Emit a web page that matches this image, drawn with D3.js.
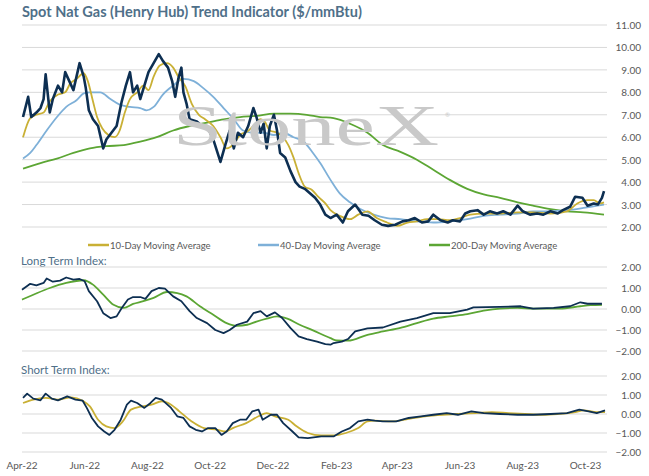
<!DOCTYPE html>
<meta charset="utf-8">
<head>
<style>
  body { margin: 0; background: #fff; }
  text { font-family: Lato, "Open Sans", sans-serif; }
</style>
</head>
<body>
<div id="chart"></div>
<script src="https://d3js.org/d3.v7.min.js"></script>
<script>

// day offsets are days after 1 Apr 2022
var startDate = new Date(2022, 3, 1);

var priceDays = [1,6,9,14,18,21,23,27,30,35,39,42,47,50,56,60,62,65,69,74,79,82,87,92,97,101,105,108,112,115,119,123,128,133,137,142,146,149,152,155,157,160,163,170,175,180,186,193,198,202,206,210,215,220,225,228,232,235,238,241,245,248,251,256,261,266,270,275,280,285,290,295,300,306,312,317,324,331,337,343,350,356,363,370,376,382,389,395,400,407,414,419,426,431,436,443,449,455,462,468,475,482,487,494,501,507,514,521,526,533,538,545,550,556,560,564,566];
var priceVals = [6.9,7.8,6.9,7.1,7.3,7.7,8.8,7.1,7.7,8.3,8.0,8.9,8.4,8.1,9.3,8.7,8.2,7.2,6.8,6.5,5.5,5.9,6.2,6.5,7.6,8.3,8.9,8.0,8.3,7.7,8.3,8.9,9.3,9.7,9.4,9.1,8.5,7.8,8.6,9.1,8.0,7.5,6.8,6.7,6.5,6.5,5.9,4.9,5.7,6.3,5.5,6.2,6.0,6.5,7.3,6.9,6.2,6.6,5.5,6.5,7.0,6.3,5.3,5.1,4.5,4.0,3.8,3.7,3.5,3.3,3.0,2.55,2.4,2.55,2.2,2.7,3.0,2.55,2.5,2.3,2.1,2.05,2.1,2.25,2.3,2.4,2.2,2.25,2.55,2.3,2.2,2.3,2.25,2.6,2.7,2.75,2.55,2.7,2.6,2.7,2.55,2.95,2.7,2.55,2.6,2.55,2.7,2.6,2.75,2.9,3.35,3.3,2.95,3.05,3.0,3.3,3.6];

var ma10Days = [1,8,14,21,27,35,42,47,53,60,64,69,73,78,84,90,95,100,105,112,118,123,128,134,141,147,152,159,165,172,178,186,193,199,206,212,219,225,232,236,241,248,254,259,264,269,275,282,288,295,300,309,319,327,336,345,355,365,375,384,394,404,416,426,436,449,465,482,497,514,530,540,550,556,562,566];
var ma10Vals = [6.0,6.85,7.0,7.1,7.6,7.9,8.0,8.4,8.6,8.85,8.5,7.6,6.9,6.4,6.1,6.0,6.3,7.1,7.7,8.0,8.3,8.1,8.7,9.2,9.3,9.1,8.7,8.25,7.5,7.0,6.8,6.5,6.0,5.5,5.7,6.1,6.25,6.5,6.8,6.7,6.3,6.2,6.0,5.65,5.1,4.4,3.8,3.65,3.35,3.05,2.75,2.5,2.35,2.55,2.7,2.4,2.2,2.05,2.2,2.25,2.35,2.35,2.3,2.4,2.55,2.6,2.6,2.65,2.65,2.6,2.7,3.05,3.2,3.2,3.05,3.1];

var ma40Days = [1,8,14,24,34,43,53,60,66,76,86,95,105,115,121,128,137,147,157,167,176,186,196,206,215,225,235,245,254,264,274,283,290,300,309,319,329,342,355,368,384,400,416,433,449,465,482,497,514,530,546,566];
var ma40Vals = [5.05,5.3,5.65,6.3,6.9,7.35,7.65,7.95,8.0,8.0,7.7,7.45,7.35,7.3,7.2,7.35,7.9,8.3,8.6,8.5,8.2,7.8,7.3,6.8,6.3,6.2,6.2,6.1,6.2,6.0,5.8,5.3,4.85,4.1,3.5,3.1,2.8,2.55,2.4,2.35,2.25,2.2,2.25,2.35,2.5,2.55,2.6,2.7,2.7,2.75,2.85,3.0];

var ma200Days = [1,18,34,50,66,82,99,115,131,147,163,180,196,212,228,245,261,277,290,303,319,336,351,368,384,400,416,433,449,465,482,497,514,530,546,566];
var ma200Vals = [4.6,4.85,5.05,5.3,5.5,5.6,5.65,5.8,6.0,6.3,6.5,6.65,6.8,6.9,6.95,7.05,7.05,7.0,6.9,6.85,6.6,6.2,5.65,5.35,5.0,4.55,4.1,3.7,3.45,3.3,3.1,2.95,2.8,2.7,2.65,2.55];

var longIdxDays = [0,8,14,21,24,30,37,43,50,56,61,65,73,79,86,92,97,103,108,115,120,126,133,139,147,155,163,170,180,188,196,202,209,219,225,232,238,246,253,261,269,277,287,295,300,303,311,317,324,336,351,368,384,400,416,433,439,465,485,497,517,533,543,550,564];
var longIdxVals = [0.92,1.2,1.13,1.24,1.45,1.3,1.35,1.5,1.4,1.43,1.32,0.85,0.37,-0.2,-0.43,-0.35,0.05,0.45,0.57,0.57,0.48,0.85,1.0,0.97,0.6,0.37,-0.1,-0.43,-0.67,-1.0,-1.15,-1.0,-0.75,-0.6,-0.2,-0.1,-0.35,-0.16,-0.43,-0.9,-1.3,-1.43,-1.55,-1.67,-1.7,-1.62,-1.55,-1.43,-1.07,-0.92,-0.88,-0.6,-0.43,-0.2,-0.2,-0.03,0.08,0.1,0.13,0.02,0.05,0.13,0.32,0.25,0.25];

var longAvgDays = [0,11,27,43,60,69,79,89,99,108,118,128,141,151,160,173,186,199,209,219,228,238,248,258,270,283,300,306,317,336,351,368,384,400,416,433,449,465,482,497,523,543,553,564];
var longAvgVals = [0.45,0.68,1.0,1.24,1.37,1.16,0.68,0.2,0.05,0.24,0.37,0.53,0.81,0.76,0.6,0.13,-0.27,-0.67,-0.8,-0.75,-0.6,-0.46,-0.35,-0.46,-0.75,-1.02,-1.39,-1.5,-1.51,-1.23,-1.07,-0.9,-0.67,-0.46,-0.35,-0.24,-0.08,0.02,0.05,0.02,0.02,0.13,0.18,0.2];

var shortIdxDays = [1,5,11,18,23,29,35,44,52,59,63,68,74,80,85,90,96,102,106,112,119,125,130,136,145,151,157,163,169,175,181,188,194,199,205,212,218,224,230,234,242,248,254,263,269,278,291,303,311,319,327,336,343,351,364,376,388,400,413,424,437,449,465,482,497,514,530,542,551,559,567];
var shortIdxVals = [0.85,1.07,0.81,0.72,1.07,0.81,0.72,0.93,0.76,0.7,0.32,-0.21,-0.65,-0.92,-1.1,-0.83,-0.3,0.49,0.7,0.58,0.32,0.58,0.85,0.76,0.32,-0.12,-0.21,-0.65,-0.83,-0.92,-0.74,-0.74,-1.1,-0.92,-0.48,-0.3,-0.3,0.14,0.23,-0.3,-0.04,-0.04,-0.48,-0.92,-1.23,-1.27,-1.18,-1.18,-0.92,-0.74,-0.39,-0.3,-0.35,-0.39,-0.39,-0.21,-0.12,-0.04,0.05,-0.04,0.14,0.05,0,-0.04,-0.04,0,0.05,0.23,0.14,0.05,0.19];

var shortAvgDays = [1,11,23,35,48,59,66,74,82,90,98,106,117,126,136,145,153,165,177,190,198,205,218,230,238,246,259,267,278,291,303,315,327,336,343,360,376,392,409,424,441,457,473,489,506,521,538,546,559,567];
var shortAvgVals = [0.58,0.76,0.85,0.76,0.88,0.7,0.4,-0.3,-0.65,-0.74,-0.39,0.23,0.4,0.49,0.67,0.49,0.14,-0.39,-0.74,-0.83,-0.92,-0.74,-0.48,-0.12,0.05,-0.12,-0.3,-0.65,-1.0,-1.13,-1.13,-1.0,-0.74,-0.39,-0.35,-0.39,-0.25,-0.12,-0.04,0,0.05,0.1,0.05,0,-0.04,0,0.1,0.19,0.1,0.1];

var priceTicks = [2,3,4,5,6,7,8,9,10,11];
var indexTicks = [-2,-1,0,1,2];
var legendLabels = ["10-Day Moving Average", "40-Day Moving Average", "200-Day Moving Average"];

var W = 649, H = 476;
var navy = "#0d2f52", gold = "#c9b035", blue = "#7eb0d8", green = "#5ca634", grid = "#d9d9d9";
var titleColor = "#4f7089", tickColor = "#595959";

var svg = d3.select("#chart").append("svg").attr("width", W).attr("height", H);

function toPts(days, vals) {
  return days.map(function(d, i) { return {date: d3.timeDay.offset(startDate, d), v: vals[i]}; });
}

var x = d3.scaleTime()
  .domain([startDate, d3.timeDay.offset(startDate, 566)])
  .range([22, 604]);

function panel(y, ticks) {
  var g = svg.append("g");
  g.selectAll("line.grid").data(ticks).enter().append("line")
    .attr("x1", 22).attr("x2", 607)
    .attr("y1", function(d) { return y(d); }).attr("y2", function(d) { return y(d); })
    .attr("stroke", grid).attr("stroke-width", 1);
  g.selectAll("text.tick").data(ticks).enter().append("text")
    .attr("x", 641).attr("y", function(d) { return y(d) + 4; })
    .attr("text-anchor", "end").attr("font-size", 10).attr("fill", tickColor)
    .text(function(d) { return d3.format(".2f")(d); });
  return g;
}

function drawLine(g, y, pts, color, w, smooth) {
  var line = d3.line().x(function(d) { return x(d.date); }).y(function(d) { return y(d.v); })
    .curve(smooth ? d3.curveMonotoneX : d3.curveLinear);
  g.append("path").datum(pts).attr("d", line)
    .attr("fill", "none").attr("stroke", color).attr("stroke-width", w)
    .attr("stroke-linejoin", "round");
}

// title
svg.append("text").attr("x", 22).attr("y", 17)
  .attr("font-size", 14.5).attr("font-weight", "bold").attr("fill", titleColor)
  .text("Spot Nat Gas (Henry Hub) Trend Indicator ($/mmBtu)");

// price panel
var yP = d3.scaleLinear().domain([2, 11]).range([227, 25]);
var gP = panel(yP, priceTicks);

// watermark
svg.append("text").attr("x", 173).attr("y", 145)
  .attr("font-size", 56).attr("fill", "#c9c9c9")
  .attr("textLength", 266).attr("lengthAdjust", "spacingAndGlyphs")
  .style("font-family", "'Liberation Serif', 'DejaVu Serif', serif")
  .text("StoneX");
svg.append("text").attr("x", 445).attr("y", 117).attr("font-size", 6)
  .attr("fill", "#c9c9c9").text("®");

drawLine(gP, yP, toPts(ma200Days, ma200Vals), green, 1.8, true);
drawLine(gP, yP, toPts(ma40Days, ma40Vals), blue, 1.8, true);
drawLine(gP, yP, toPts(ma10Days, ma10Vals), gold, 1.8, true);
drawLine(gP, yP, toPts(priceDays, priceVals), navy, 2.6, false);

// legend
var legX = [88, 258, 429], legC = [gold, blue, green];
legendLabels.forEach(function(t, i) {
  svg.append("line").attr("x1", legX[i]).attr("x2", legX[i] + 21)
    .attr("y1", 245).attr("y2", 245).attr("stroke", legC[i]).attr("stroke-width", 2.5);
  svg.append("text").attr("x", legX[i] + 22).attr("y", 249)
    .attr("font-size", 9.5).attr("fill", tickColor).text(t);
});

// long term index
svg.append("text").attr("x", 21).attr("y", 265).attr("font-size", 11.5).attr("fill", titleColor)
  .text("Long Term Index:");
var yL = d3.scaleLinear().domain([-2, 2]).range([351, 267]);
var gL = panel(yL, indexTicks);
drawLine(gL, yL, toPts(longAvgDays, longAvgVals), green, 1.8, true);
drawLine(gL, yL, toPts(longIdxDays, longIdxVals), navy, 1.8, false);

// short term index
svg.append("text").attr("x", 21).attr("y", 374).attr("font-size", 11.5).attr("fill", titleColor)
  .text("Short Term Index:");
var yS = d3.scaleLinear().domain([-2, 2]).range([452, 376]);
var gS = panel(yS, indexTicks);
drawLine(gS, yS, toPts(shortAvgDays, shortAvgVals), gold, 1.8, true);
drawLine(gS, yS, toPts(shortIdxDays, shortIdxVals), navy, 1.8, false);

// x axis, every second month from Apr-22
var xTicks = d3.timeMonth.range(startDate, new Date(2023, 10, 1), 2);
svg.selectAll("text.xt").data(xTicks).enter().append("text")
  .attr("x", function(d) { return x(d); }).attr("y", 469)
  .attr("text-anchor", "middle").attr("font-size", 10).attr("fill", tickColor)
  .text(function(d) { return d3.timeFormat("%b-%y")(d); });

</script>
</body>
